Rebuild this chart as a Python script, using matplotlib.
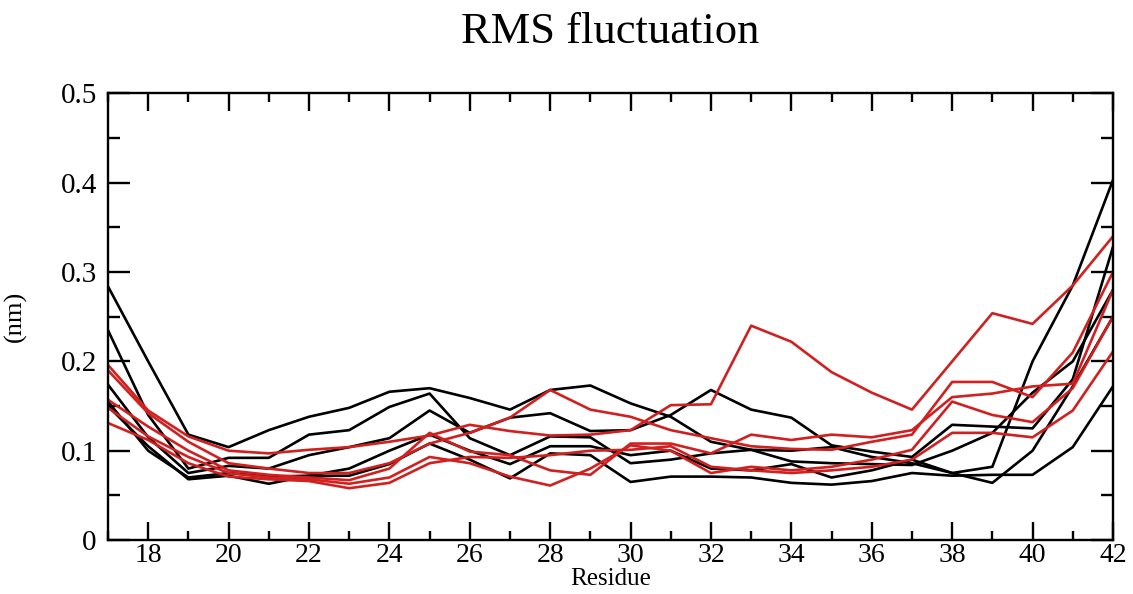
import matplotlib
matplotlib.use("Agg")
import matplotlib.pyplot as plt
from matplotlib.ticker import MultipleLocator

plt.rcParams["font.family"] = ["Liberation Serif", "DejaVu Serif"]

residue = list(range(17, 43))

# black set
black_1 = [0.284, 0.200, 0.118, 0.104, 0.123, 0.138, 0.148, 0.166, 0.170, 0.159, 0.146, 0.168, 0.173,
           0.153, 0.138, 0.110, 0.101, 0.088, 0.086, 0.085, 0.084, 0.100, 0.120, 0.165, 0.200, 0.280]
black_2 = [0.235, 0.140, 0.080, 0.092, 0.092, 0.118, 0.123, 0.149, 0.164, 0.114, 0.095, 0.116, 0.115,
           0.086, 0.090, 0.097, 0.101, 0.100, 0.104, 0.093, 0.086, 0.075, 0.082, 0.200, 0.285, 0.403]
black_3 = [0.174, 0.115, 0.075, 0.083, 0.080, 0.095, 0.104, 0.114, 0.145, 0.120, 0.137, 0.142, 0.122,
           0.123, 0.140, 0.168, 0.146, 0.137, 0.106, 0.099, 0.093, 0.129, 0.127, 0.125, 0.180, 0.328]
black_4 = [0.155, 0.100, 0.070, 0.075, 0.071, 0.072, 0.072, 0.085, 0.108, 0.090, 0.069, 0.097, 0.095,
           0.065, 0.071, 0.071, 0.070, 0.064, 0.062, 0.066, 0.075, 0.072, 0.073, 0.073, 0.104, 0.172]
black_5 = [0.150, 0.105, 0.068, 0.072, 0.063, 0.072, 0.080, 0.100, 0.118, 0.100, 0.085, 0.105, 0.105,
           0.095, 0.100, 0.080, 0.078, 0.085, 0.070, 0.078, 0.090, 0.075, 0.064, 0.100, 0.172, 0.250]

# red set
red_1 = [0.196, 0.145, 0.116, 0.100, 0.097, 0.101, 0.104, 0.110, 0.117, 0.129, 0.122, 0.117, 0.118,
         0.123, 0.151, 0.152, 0.240, 0.222, 0.188, 0.165, 0.146, 0.200, 0.254, 0.242, 0.285, 0.340]
red_2 = [0.190, 0.142, 0.110, 0.086, 0.080, 0.075, 0.075, 0.086, 0.108, 0.120, 0.137, 0.168, 0.146,
         0.138, 0.123, 0.114, 0.105, 0.102, 0.101, 0.110, 0.118, 0.177, 0.177, 0.160, 0.210, 0.300]
red_3 = [0.157, 0.127, 0.100, 0.078, 0.073, 0.070, 0.067, 0.080, 0.120, 0.099, 0.095, 0.078, 0.073,
         0.108, 0.108, 0.097, 0.118, 0.112, 0.118, 0.115, 0.123, 0.160, 0.164, 0.172, 0.175, 0.280]
red_4 = [0.148, 0.116, 0.093, 0.075, 0.070, 0.068, 0.063, 0.070, 0.093, 0.086, 0.071, 0.061, 0.080,
         0.106, 0.100, 0.075, 0.082, 0.078, 0.082, 0.090, 0.101, 0.155, 0.140, 0.132, 0.170, 0.250]
red_5 = [0.131, 0.112, 0.086, 0.071, 0.068, 0.066, 0.058, 0.064, 0.086, 0.093, 0.092, 0.095, 0.100,
         0.101, 0.105, 0.082, 0.078, 0.075, 0.078, 0.082, 0.090, 0.120, 0.120, 0.115, 0.145, 0.211]

black_runs = [black_1, black_2, black_3, black_4, black_5]
red_runs = [red_1, red_2, red_3, red_4, red_5]

fig = plt.figure(figsize=(11.33, 5.94), dpi=100)
ax = fig.add_axes([0.0953, 0.0909, 0.8870, 0.7517])

for run in black_runs:
    ax.plot(residue, run, color="black", lw=1.9)
for run in red_runs:
    ax.plot(residue, run, color="#d02020", lw=1.9)

ax.set_xlim(17, 42)
ax.set_ylim(0, 0.5)
ax.xaxis.set_minor_locator(MultipleLocator(1))
ax.yaxis.set_minor_locator(MultipleLocator(0.05))
ax.set_xticks(range(18, 43, 2))
ax.set_yticks([0, 0.1, 0.2, 0.3, 0.4, 0.5])
ax.set_yticklabels(["0", "0.1", "0.2", "0.3", "0.4", "0.5"])

for s in ax.spines.values():
    s.set_linewidth(1.7)
ax.tick_params(axis="both", which="both", direction="in", top=True, right=True,
               width=1.7, labelsize=21)
ax.tick_params(axis="x", which="major", length=13, pad=2, labelsize=20)
ax.tick_params(axis="x", which="minor", length=6.5)
ax.tick_params(axis="y", which="major", length=16, pad=8)
ax.tick_params(axis="y", which="minor", length=8.5)

ax.set_xlabel("Residue", fontsize=18, labelpad=0)
ax.set_ylabel("(nm)", fontsize=19, labelpad=24)
ax.set_title("RMS fluctuation", fontsize=32, pad=36)

fig.savefig("out.png", dpi=100)
